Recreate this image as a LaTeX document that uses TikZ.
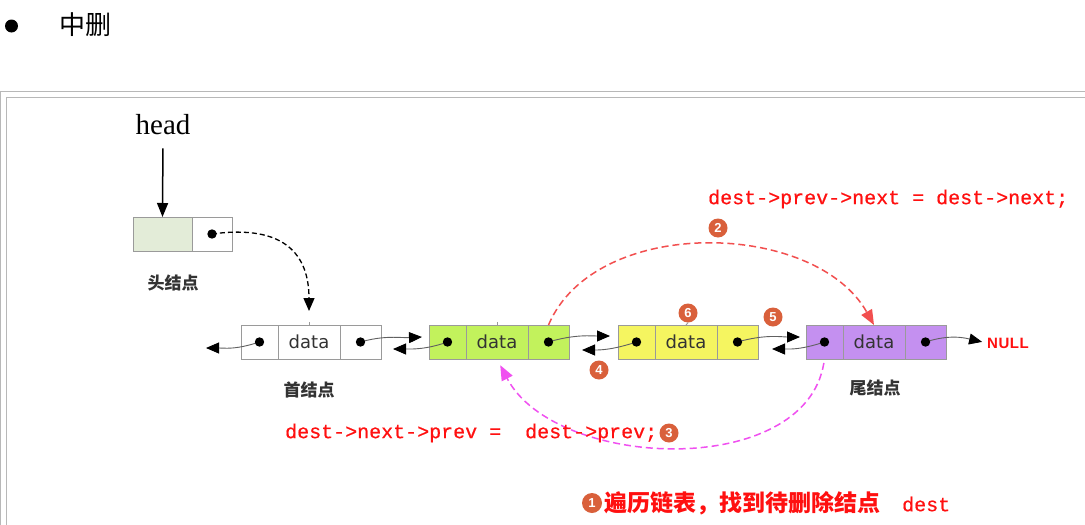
\documentclass[tikz,border=0pt]{standalone}
\usepackage{fontspec}
\usetikzlibrary{arrows.meta}
\newfontfamily\cjk{Noto Sans CJK SC}
\newfontfamily\mono[FakeBold=0.6]{Liberation Mono}
\newfontfamily\dataf{DejaVu Sans}
\newfontfamily\nullf{Liberation Sans}
\newfontfamily\headf{Liberation Serif}
\definecolor{badgec}{HTML}{D9603B}
\definecolor{framec}{HTML}{B8B8B8}
\definecolor{cellb}{HTML}{9A9A9A}
\definecolor{hgreen}{HTML}{E3ECD8}
\definecolor{ngreen}{HTML}{C2F25C}
\definecolor{nyellow}{HTML}{F5F560}
\definecolor{npurple}{HTML}{C490F0}
\definecolor{codered}{HTML}{FF1010}
\definecolor{arcred}{HTML}{F24F4F}
\definecolor{arcmag}{HTML}{F050F0}
\definecolor{linkgray}{HTML}{606060}
\definecolor{labelgray}{HTML}{333333}
\tikzset{
  cell/.style={draw=cellb, line width=0.9pt, minimum height=34pt, inner sep=0pt, outer sep=0pt, anchor=west},
  link/.style={draw=linkgray, line width=0.9pt, -{Triangle[length=13pt,width=11pt,color=black]}},
  badge/.style={circle, fill=badgec, text=white, inner sep=0pt, minimum size=19pt, font=\nullf\bfseries\fontsize{13}{13}\selectfont},
  code/.style={text=codered, font=\mono\fontsize{20}{24}\selectfont, inner sep=0pt, anchor=west},
  cnlabel/.style={text=labelgray, font=\cjk\bfseries\fontsize{17}{20}\selectfont, inner sep=0pt},
  arcline/.style={line width=1.5pt, dash pattern=on 7pt off 4pt, -{Triangle[length=15pt,width=12pt]}}
}
\newcommand\dllnode[3]{%
  \node[cell, fill=#3, minimum width=37pt] (#1l) at (#2,342) {};
  \node[cell, fill=#3, minimum width=62pt, font=\dataf\fontsize{18}{18}\selectfont, text=labelgray] (#1m) at (#1l.east) {data};
  \node[cell, fill=#3, minimum width=41pt] (#1r) at (#1m.east) {};
}
\begin{document}
\begin{tikzpicture}[x=1pt,y=-1pt]
\useasboundingbox (0,0) rectangle (1085,525);
\fill[white] (0,0) rectangle (1085,525);
% frame
\draw[framec, line width=1.2pt] (0.6,525) -- (0.6,91.6) -- (1085,91.6);
\draw[framec, line width=1.2pt] (6.6,525) -- (6.6,97.6) -- (1085,97.6);
% title
\node[circle, fill=black, minimum size=13pt, inner sep=0pt] (bullet) at (11.5,26) {};
\node[font=\cjk\fontsize{26}{26}\selectfont, anchor=west, inner sep=0pt] (title) at (59,25) {中删};
% head
\node[font=\headf\fontsize{29}{29}\selectfont, inner sep=0pt] (headtxt) at (163,125) {head};
\node[cell, fill=hgreen, minimum width=59pt] (hl) at (133,234) {};
\node[cell, fill=white, minimum width=40pt] (hr) at (hl.east) {};
\draw[line width=1.5pt, -{Triangle[length=14pt,width=11pt]}, shorten <=13pt] (headtxt.south) -- (hl.north);
\node[cnlabel] (hlabel) at (173,283) {头结点};
% list nodes
\dllnode{n1}{241}{white}
\dllnode{n2}{429}{ngreen}
\dllnode{n3}{618}{nyellow}
\dllnode{n4}{806}{npurple}
\node[cnlabel] (l1) at (309,390) {首结点};
\node[cnlabel] (l4) at (875,388) {尾结点};
\node[font=\nullf\bfseries\fontsize{15}{15}\selectfont, text=codered, anchor=west, inner sep=0pt] (null) at (987,343) {N\kern0.5pt U\kern0.5pt L\kern0.5pt L};
% ticks
\draw[cellb, line width=0.9pt] (n1m.north) -- ++(0,-3);
\draw[cellb, line width=0.9pt] (n2m.north) -- ++(0,-3);
% dashed pointer from head
\draw[line width=1.3pt, dash pattern=on 5pt off 3pt, -{Triangle[length=13pt,width=11pt]}, shorten >=14pt] (hr.center) .. controls (285,224) and (309,255) .. (n1m.north);
% free ends
\coordinate (t10) at (206,348);
\coordinate (t12) at (422,337);
\coordinate (t21) at (393,349);
\coordinate (t23) at (610,336);
\coordinate (t32) at (582,350);
\coordinate (t34) at (800,337);
\coordinate (t43) at (772,349);
% links
\draw[link] (n1l.center) .. controls (235,350) and (225,348) .. (t10);
\draw[link] (n1r.center) .. controls (385,335) and (400,338) .. (t12);
\draw[link] (n2l.center) .. controls (425,350) and (410,349) .. (t21);
\draw[link] (n2r.center) .. controls (575,334) and (592,336) .. (t23);
\draw[link] (n3l.center) .. controls (612,350) and (600,350) .. (t32);
\draw[link] (n3r.center) .. controls (765,334) and (782,337) .. (t34);
\draw[link] (n4l.center) .. controls (800,350) and (790,349) .. (t43);
\draw[link, shorten >=5pt] (n4r.center) .. controls (950,334) and (965,338) .. (null.west);
% dots
\foreach \n in {hr,n1l,n1r,n2l,n2r,n3l,n3r,n4l,n4r} \fill (\n.center) circle (4.7pt);
% arcs
\draw[arcline, arcred] (n2r.north) .. controls (595,215) and (815,220) .. (n4m.north);
\draw[arcline, arcmag, shorten <=4pt, shorten >=7pt] (n4l.south) .. controls (805,480) and (555,470) .. (n2m.south);
% code texts
\node[code] (c2) at (708,199) {dest->prev->next = dest->next;};
\node[code] (c3) at (285,433) {dest->next->prev =\ \ dest->prev;};
\node[anchor=west, inner sep=0pt, text=codered] (c1) at (604,503) {{\cjk\bfseries\fontsize{23}{26}\selectfont 遍历链表，找到待删除结点}\hspace{22pt}{\mono\fontsize{20}{24}\selectfont dest}};
% badges
\node[badge] (b2) at (718,228) {2};
\node[badge] (b6) at (688,313) {6};
\node[badge] (b5) at (773,317) {5};
\node[badge] (b4) at (599,370) {4};
\node[badge] (b3) at (669,433) {3};
\node[badge, minimum size=20pt] (b1) at (592,503) {1};
\draw[cellb, line width=0.9pt] (b6.south) -- (n3m.north);
\end{tikzpicture}
\end{document}
